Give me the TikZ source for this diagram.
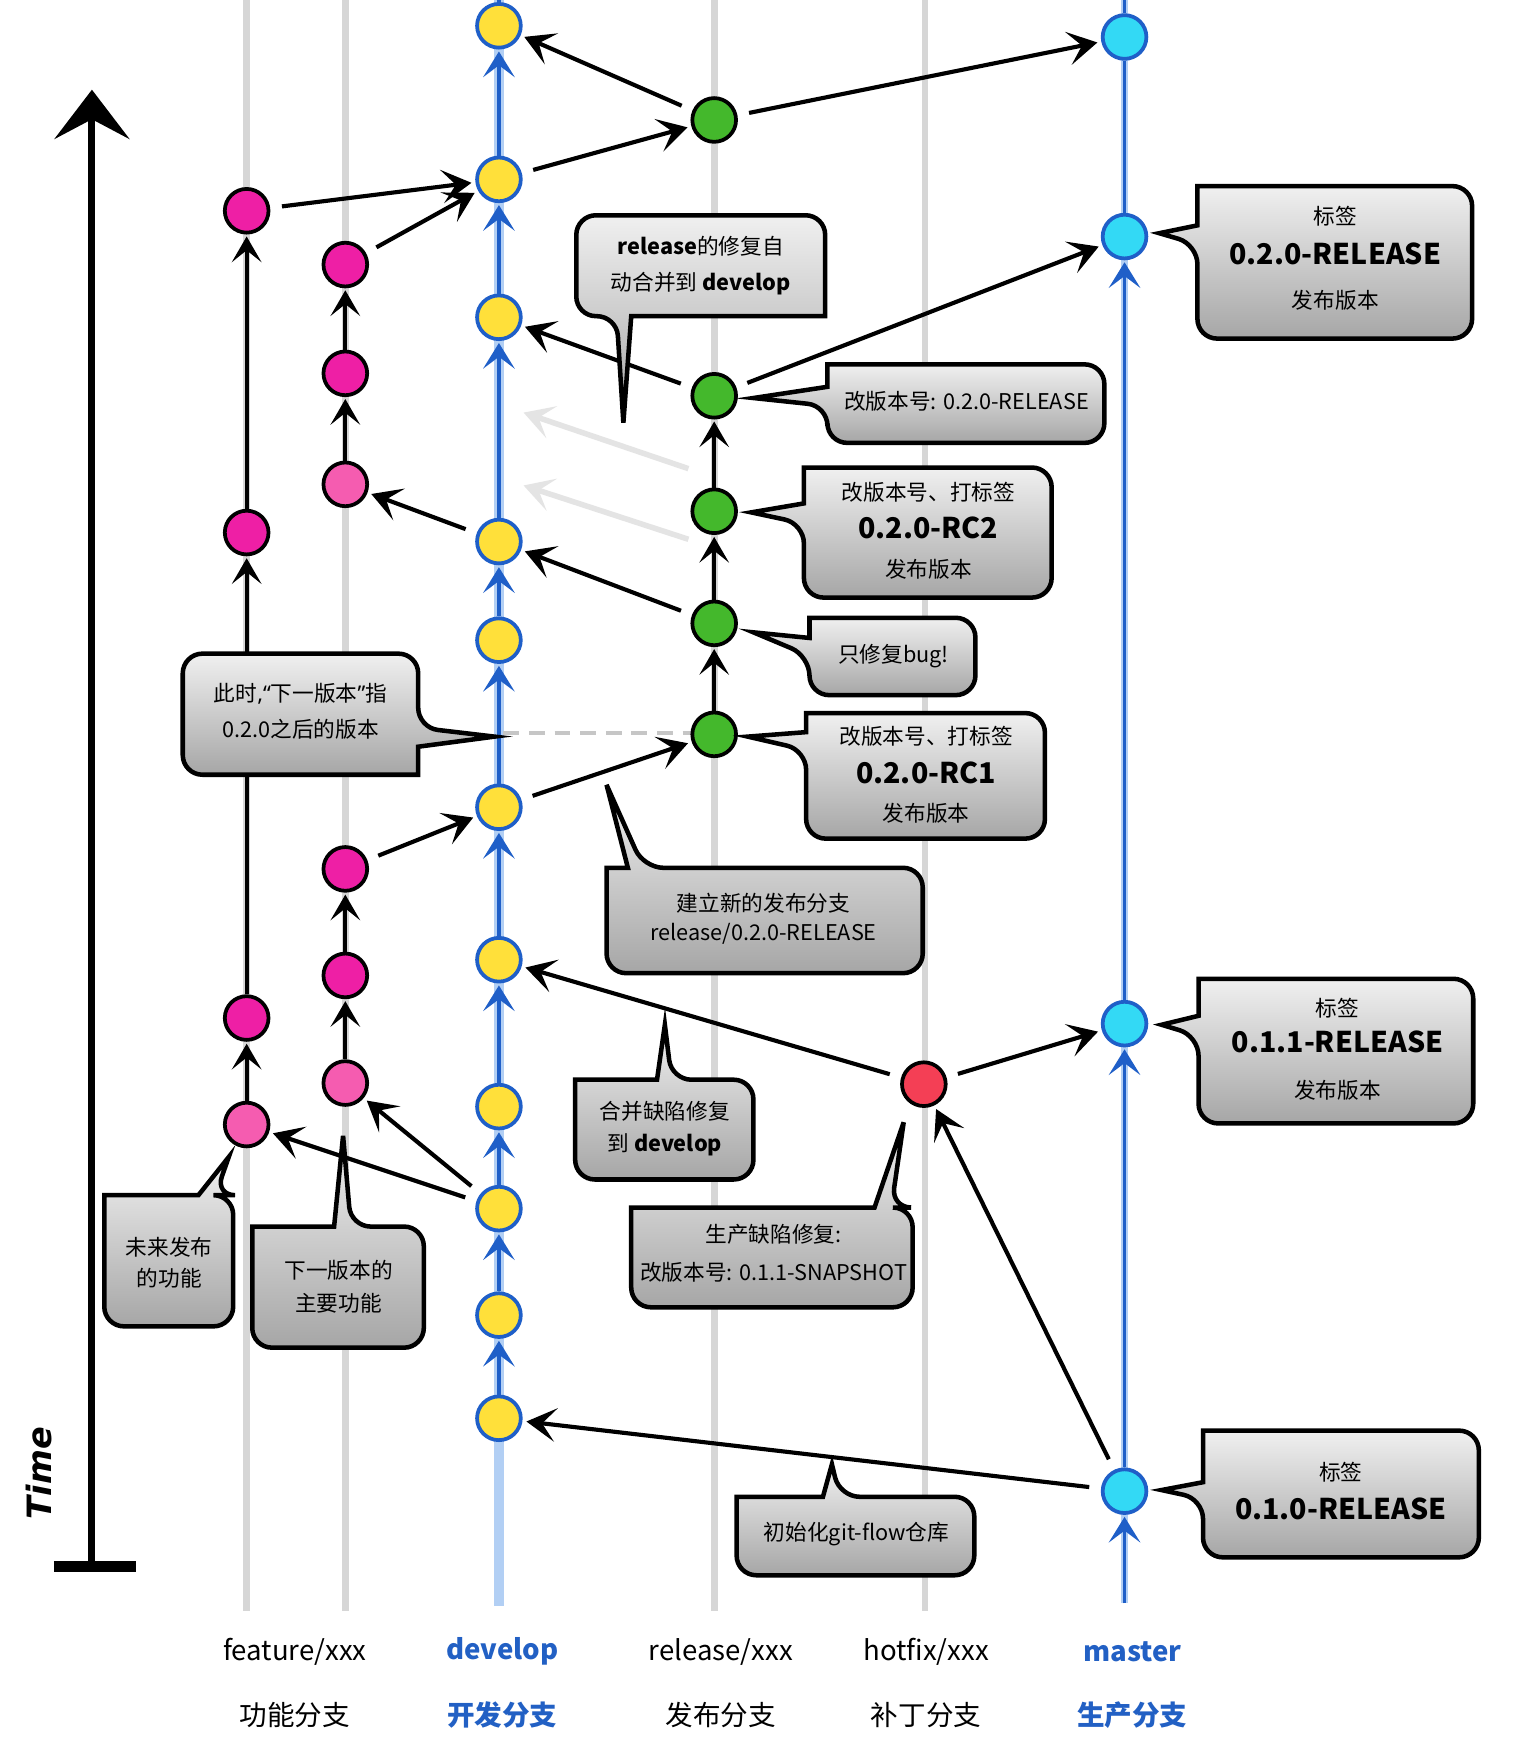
\documentclass[tikz,border=0pt]{standalone}
\usepackage{fontspec}
\setmainfont{Noto Sans CJK SC}
\newfontfamily\timefont{DejaVu Sans}
\newfontfamily\latinq{Noto Sans}
\usetikzlibrary{arrows.meta}
\pgfdeclarelayer{lanes}
\pgfdeclarelayer{links}
\pgfdeclarelayer{front}
\pgfsetlayers{lanes,links,main,front}
\definecolor{lanegray}{HTML}{D6D6D6}
\definecolor{devblue}{HTML}{1F5FC8}
\definecolor{halo}{HTML}{B2CFF4}
\definecolor{cmag}{HTML}{EE1FA5}
\definecolor{cpink}{HTML}{F55CB0}
\definecolor{cyel}{HTML}{FFE03A}
\definecolor{cgreen}{HTML}{44B82C}
\definecolor{ccyan}{HTML}{33D9F5}
\definecolor{cred}{HTML}{F43F55}
\definecolor{ctop}{HTML}{F0F0F0}
\definecolor{cbot}{HTML}{A6A6A6}
\definecolor{ghost}{HTML}{E4E4E4}
\definecolor{lblblue}{HTML}{2260C4}
\begin{document}
\begin{tikzpicture}[x=0.02cm,y=-0.02cm,
  commit/.style={circle, minimum size=0.78cm, inner sep=0pt, line width=1.9pt},
  dc/.style={commit, draw=devblue, fill=cyel},
  mc/.style={commit, draw=devblue, fill=ccyan},
  fc/.style={commit, draw=black, fill=cmag},
  fp/.style={commit, draw=black, fill=cpink},
  rc/.style={commit, draw=black, fill=cgreen},
  hc/.style={commit, draw=black, fill=cred},
  lane/.style={lanegray, line width=3.4pt},
  arr/.style={black, line width=2.1pt, -{Stealth[length=15pt,width=17pt,inset=7pt]}, shorten >=2pt, shorten <=6pt},
  lanearr/.style={black, line width=2pt, -{Stealth[length=13pt,width=15pt,inset=6pt]}, shorten >=1pt},
  bluearr/.style={devblue, line width=1.7pt, -{Stealth[length=13pt,width=16pt,inset=6pt]}, shorten >=1pt},
  ghostarr/.style={ghost, line width=2.8pt, -{Stealth[length=15pt,width=17pt,inset=7pt]}},
  callout/.style={draw=black, line width=2.3pt, top color=ctop, bottom color=cbot},
  txt/.style={inner sep=0pt, font=\fontsize{11}{13}\selectfont},
  big/.style={inner sep=0pt, font=\fontsize{14.5}{17}\selectfont\bfseries},
  lbl/.style={inner sep=0pt, font=\fontsize{14}{17}\selectfont},
  blbl/.style={inner sep=0pt, text=lblblue, font=\fontsize{14}{17}\selectfont\bfseries},
]
\useasboundingbox (0,0) rectangle (1359,1568);

% ---------- lane coordinates ----------
\coordinate (f1t) at (220,0);   \coordinate (f1b) at (220,1437);
\coordinate (f2t) at (308,0);   \coordinate (f2b) at (308,1437);
\coordinate (rt)  at (637,0);   \coordinate (rb)  at (637,1437);
\coordinate (ht)  at (825,0);   \coordinate (hb)  at (825,1437);
\coordinate (dt)  at (445,0);   \coordinate (db)  at (445,1432);
\coordinate (mt)  at (1003,0);  \coordinate (mb)  at (1003,1430);

\begin{pgfonlayer}{lanes}
\fill[white] (0,0) rectangle (1359,1568);
\draw[lane] (f1t) -- (f1b);
\draw[lane] (f2t) -- (f2b);
\draw[lane] (rt) -- (rb);
\draw[lane] (ht) -- (hb);
\draw[halo, line width=5pt] (dt) -- (db);
\draw[halo, line width=4pt] (mt) -- (mb);
\end{pgfonlayer}

% ---------- commits ----------
\node[dc] (d1) at (445,23) {};
\node[dc] (d2) at (445,160) {};
\node[dc] (d3) at (445,283) {};
\node[dc] (d4) at (445,483) {};
\node[dc] (d5) at (445,571) {};
\node[dc] (d6) at (445,720) {};
\node[dc] (d7) at (445,856) {};
\node[dc] (d8) at (445,987) {};
\node[dc] (d9) at (445,1078) {};
\node[dc] (d10) at (445,1173) {};
\node[dc] (d11) at (445,1265) {};

\node[fc] (fa1) at (220,188) {};
\node[fc] (fa2) at (220,475) {};
\node[fc] (fa3) at (220,908) {};
\node[fp] (fa4) at (220,1003) {};

\node[fc] (fb1) at (308,236) {};
\node[fc] (fb2) at (308,333) {};
\node[fp] (fb3) at (308,432) {};
\node[fc] (fb4) at (308,775) {};
\node[fc] (fb5) at (308,870) {};
\node[fp] (fb6) at (308,966) {};

\node[rc] (r1) at (637,107) {};
\node[rc] (r2) at (637,353) {};
\node[rc] (r3) at (637,456) {};
\node[rc] (r4) at (637,556) {};
\node[rc] (r5) at (637,655) {};

\node[hc] (h1) at (824,967) {};

\node[mc] (m1) at (1003,33) {};
\node[mc] (m2) at (1003,211) {};
\node[mc] (m3) at (1003,913) {};
\node[mc] (m4) at (1003,1330) {};

\begin{pgfonlayer}{links}
% develop / master main lines
\draw[devblue, line width=1.7pt] (dt) -- (d1);
\draw[devblue, line width=1.7pt] (mt) -- (m1);
\draw[devblue, line width=1.7pt] (m1) -- (m2);
\draw[bluearr] (d2) -- (d1);
\draw[bluearr] (d3) -- (d2);
\draw[bluearr] (d4) -- (d3);
\draw[bluearr] (d5) -- (d4);
\draw[bluearr] (d6) -- (d5);
\draw[bluearr] (d7) -- (d6);
\draw[bluearr] (d8) -- (d7);
\draw[bluearr] (d9) -- (d8);
\draw[bluearr] (d10) -- (d9);
\draw[bluearr] (d11) -- (d10);
\draw[bluearr] (mb) -- (m4);
\draw[bluearr] (m4) -- (m3);
\draw[bluearr] (m3) -- (m2);

% lane arrows
\draw[lanearr] (fa2) -- (fa1);
\draw[lanearr] (fa3) -- (fa2);
\draw[lanearr] (fa4) -- (fa3);
\draw[lanearr] (fb2) -- (fb1);
\draw[lanearr] (fb3) -- (fb2);
\draw[lanearr] (fb5) -- (fb4);
\draw[lanearr] (fb6) -- (fb5);
\draw[lanearr] (r5) -- (r4);
\draw[lanearr] (r4) -- (r3);
\draw[lanearr] (r3) -- (r2);

% dashed marker & ghost arrows
\coordinate (dsh1) at (449,654);
\coordinate (dsh2) at (616,654);
\draw[gray!45, line width=2pt, dash pattern=on 8pt off 5pt] (dsh1) -- (dsh2);
\coordinate (g1s) at (614,418); \coordinate (g1e) at (467,368);
\coordinate (g2s) at (614,481); \coordinate (g2e) at (467,433);
\draw[ghostarr] (g1s) -- (g1e);
\draw[ghostarr] (g2s) -- (g2e);

% cross arrows
\draw[arr] (r1) -- (d1);
\draw[arr] (r1) -- (m1);
\draw[arr] (d2) -- (r1);
\draw[arr] (fa1) -- (d2);
\draw[arr] (fb1) -- (d2);
\draw[arr] (r2) -- (d3);
\draw[arr] (r2) -- (m2);
\draw[arr] (r4) -- (d4);
\draw[arr] (d4) -- (fb3);
\draw[arr] (d6) -- (r5);
\draw[arr] (fb4) -- (d6);
\draw[arr] (h1) -- (d7);
\draw[arr] (h1) -- (m3);
\draw[arr] (m4) -- (h1);
\draw[arr] (m4) -- (d11);
\draw[arr] (d9) -- (fa4);
\draw[arr] (d9) -- (fb6);
\end{pgfonlayer}

\begin{pgfonlayer}{front}
% ---------- Time axis ----------
\coordinate (tbot) at (82,1397);
\coordinate (ttop) at (82,80);
\coordinate (tbl) at (48,1397);
\coordinate (tbr) at (121,1397);
\draw[black, line width=3.6pt, -{Stealth[length=25pt,width=38pt,inset=10pt]}] (tbot) -- (ttop);
\draw[black, line width=5.5pt] (tbl) -- (tbr);
\node[rotate=90, inner sep=0pt, font=\timefont\fontsize{17}{20}\selectfont\bfseries\itshape] (time) at (35,1314) {Time};

% ---------- callouts ----------
% C1 bottom tail
\path[callout] (625,192) [rounded corners=10pt] -- (514,192) -- (514,282) -- (550,282) [sharp corners] -- (556,377) -- (563,282) -- (736,282) [rounded corners=10pt] -- (736,192) -- cycle;
\node[txt] (c1a) at (625,220) {\textbf{release}的修复自};
\node[txt] (c1b) at (625,253) {动合并到 \textbf{develop}};

% C2 left tail
\path[callout] (985,360) [rounded corners=10pt] -- (985,395) -- (738,395) -- (738,362) [sharp corners] -- (672,355) -- (738,345) -- (738,325) [rounded corners=10pt] -- (985,325) -- cycle;
\node[txt] (c2) at (862,358) {改版本号: 0.2.0-RELEASE};

% C3
\path[callout] (938,475) [rounded corners=10pt] -- (938,533) -- (717,533) -- (717,467) [sharp corners] -- (670,457) -- (717,449) -- (717,417) [rounded corners=10pt] -- (938,417) -- cycle;
\node[txt] (c3a) at (828,439) {改版本号、打标签};
\node[big] (c3b) at (828,471) {0.2.0-RC2};
\node[txt] (c3c) at (828,508) {发布版本};

% C4
\path[callout] (870,585) [rounded corners=10pt] -- (870,620) -- (722,620) -- (722,585) [sharp corners] -- (672,564) -- (722,569) -- (722,551) [rounded corners=10pt] -- (870,551) -- cycle;
\node[txt] (c4) at (797,585) {只修复bug!};

% C5
\path[callout] (932,692) [rounded corners=10pt] -- (932,748) -- (719,748) -- (719,669) [sharp corners] -- (667,657) -- (719,653) -- (719,636) [rounded corners=10pt] -- (932,636) -- cycle;
\node[txt] (c5a) at (826,657) {改版本号、打标签};
\node[big] (c5b) at (826,689) {0.2.0-RC1};
\node[txt] (c5c) at (826,725) {发布版本};

% C6
\path[callout] (1313,234) [rounded corners=10pt] -- (1313,302) -- (1068,302) -- (1068,218) [sharp corners] -- (1034,208) -- (1068,201) -- (1068,166) [rounded corners=10pt] -- (1313,166) -- cycle;
\node[txt] (c6a) at (1191,193) {标签};
\node[big] (c6b) at (1191,226) {0.2.0-RELEASE};
\node[txt] (c6c) at (1191,268) {发布版本};

% C7 right tail
\path[callout] (163,637) [rounded corners=10pt] -- (163,583) -- (373,583) -- (373,649) [sharp corners] -- (441,657) -- (373,666) -- (373,691) [rounded corners=10pt] -- (163,691) -- cycle;
\node[txt] (c7a) at (268,619) {此时{\latinq,“}下一版本{\latinq”}指};
\node[txt] (c7b) at (268,650) {0.2.0之后的版本};

% C8 top tail
\path[callout] (682,868) [rounded corners=10pt] -- (823,868) -- (823,774) -- (574,774) [sharp corners] -- (541,700) -- (560,774) -- (541,774) [rounded corners=10pt] -- (541,868) -- cycle;
\node[txt] (c8a) at (681,806) {建立新的发布分支};
\node[txt] (c8b) at (681,833) {release/0.2.0-RELEASE};

% C9
\path[callout] (1314,937) [rounded corners=10pt] -- (1314,1002) -- (1069,1002) -- (1069,924) [sharp corners] -- (1036,914) -- (1069,906) -- (1069,873) [rounded corners=10pt] -- (1314,873) -- cycle;
\node[txt] (c9a) at (1193,899) {标签};
\node[big] (c9b) at (1193,929) {0.1.1-RELEASE};
\node[txt] (c9c) at (1193,972) {发布版本};

% C10
\path[callout] (593,1052) [rounded corners=10pt] -- (672,1052) -- (672,963) -- (599,963) [sharp corners] -- (593,914) -- (586,963) -- (513,963) [rounded corners=10pt] -- (513,1052) -- cycle;
\node[txt] (c10a) at (593,991) {合并缺陷修复};
\node[txt] (c10b) at (593,1021) {到 \textbf{develop}};

% C11
\path[callout] (690,1166) [rounded corners=10pt] -- (814,1166) -- (814,1077) -- (795,1077) [sharp corners] -- (806,1001) -- (780,1077) -- (563,1077) [rounded corners=10pt] -- (563,1166) -- cycle;
\node[txt] (c11a) at (690,1101) {生产缺陷修复:};
\node[txt] (c11b) at (690,1135) {改版本号: 0.1.1-SNAPSHOT};

% C12
\path[callout] (150,1183) [rounded corners=10pt] -- (208,1183) -- (208,1066) -- (192,1066) [sharp corners] -- (204,1032) -- (177,1066) -- (93,1066) [rounded corners=10pt] -- (93,1183) -- cycle;
\node[txt] (c12a) at (151,1112) {未来发布};
\node[txt] (c12b) at (151,1140) {的功能};

% C13
\path[callout] (300,1202) [rounded corners=10pt] -- (378,1202) -- (378,1094) -- (313,1094) [sharp corners] -- (306,1013) -- (298,1094) -- (225,1094) [rounded corners=10pt] -- (225,1202) -- cycle;
\node[txt] (c13a) at (302,1133) {下一版本的};
\node[txt] (c13b) at (302,1162) {主要功能};

% C14
\path[callout] (763,1405) [rounded corners=10pt] -- (869,1405) -- (869,1335) -- (749,1335) [sharp corners] -- (742,1306) -- (734,1335) -- (657,1335) [rounded corners=10pt] -- (657,1405) -- cycle;
\node[txt] (c14) at (764,1368) {初始化git-flow仓库};

% C15
\path[callout] (1319,1332) [rounded corners=10pt] -- (1319,1389) -- (1073,1389) -- (1073,1337) [sharp corners] -- (1036,1329) -- (1073,1322) -- (1073,1276) [rounded corners=10pt] -- (1319,1276) -- cycle;
\node[txt] (c15a) at (1196,1313) {标签};
\node[big] (c15b) at (1196,1346) {0.1.0-RELEASE};

% ---------- bottom labels ----------
\node[lbl] (l1a) at (263,1473) {feature/xxx};
\node[lbl] (l1b) at (263,1530) {功能分支};
\node[blbl] (l2a) at (448,1473) {develop};
\node[blbl] (l2b) at (448,1530) {开发分支};
\node[lbl] (l3a) at (643,1473) {release/xxx};
\node[lbl] (l3b) at (643,1530) {发布分支};
\node[lbl] (l4a) at (826,1473) {hotfix/xxx};
\node[lbl] (l4b) at (826,1530) {补丁分支};
\node[blbl] (l5a) at (1010,1473) {master};
\node[blbl] (l5b) at (1010,1530) {生产分支};
\end{pgfonlayer}
\end{tikzpicture}
\end{document}
